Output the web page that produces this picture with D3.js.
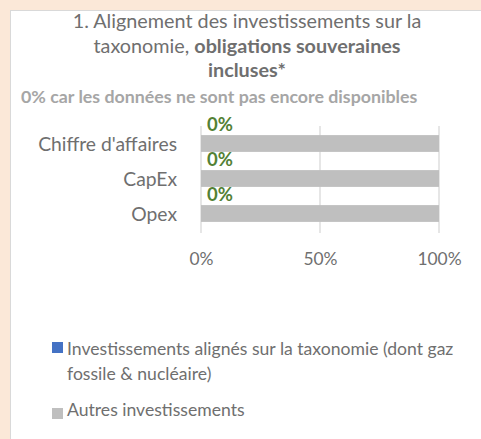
<!DOCTYPE html>
<html>
<head>
    <meta charset="utf-8">
    <script src="https://d3js.org/d3.v7.min.js"></script>
    <style>
        body { margin: 0; background: #fbe8d8; }
        svg { display: block; font-family: Lato, 'Open Sans', sans-serif; }
    </style>
</head>
<body>
<svg width="481" height="439"></svg>
<script>
    // chart data
    let categories = ["Chiffre d'affaires", "CapEx", "Opex"];
    let aligned = [0, 0, 0];
    let others = [100, 100, 100];
    let seriesNames = ["Investissements alignés sur la taxonomie (dont gaz fossile & nucléaire)", "Autres investissements"];
    let ticks = [0, 50, 100];

    let width = 481, height = 439;
    let textColor = "#6f6f6f";
    let svg = d3.select("svg");

    // white panel
    svg.append("rect")
        .attr("x", 10.5).attr("y", 10.5)
        .attr("width", width).attr("height", height)
        .attr("fill", "white")
        .attr("stroke", "#d9d9d9")

    // title
    let title = svg.append("text")
        .attr("text-anchor", "middle")
        .attr("fill", textColor)
        .attr("font-size", "19.8px")
    title.append("tspan").attr("x", 247).attr("y", 28)
        .text("1. Alignement des investissements sur la")
    let t2 = title.append("tspan").attr("x", 247).attr("y", 53)
    t2.append("tspan").text("taxonomie, ")
    t2.append("tspan").attr("font-weight", "bold").text("obligations souveraines")
    title.append("tspan").attr("x", 247).attr("y", 77)
        .attr("font-weight", "bold").text("incluses*")

    svg.append("text")
        .attr("x", 21).attr("y", 103)
        .attr("fill", "#a6a6a6")
        .attr("font-weight", "bold")
        .attr("font-size", "17.8px")
        .text("0% car les données ne sont pas encore disponibles")

    let rows = categories.map((c, i) => ({ cat: c, aligned: aligned[i], others: others[i] }));
    let stack = d3.stack().keys(["aligned", "others"])(rows);

    let x = d3.scaleLinear().domain([0, 100]).range([201, 439]);
    let y = d3.scaleBand().domain(categories).range([126, 231]).paddingInner(0.52).paddingOuter(0.26);

    // gridlines
    svg.append("g")
        .selectAll("line")
        .data(ticks)
        .join("line")
        .attr("x1", d => x(d)).attr("x2", d => x(d))
        .attr("y1", 126).attr("y2", 233)
        .attr("stroke", "#d9d9d9")
        .attr("stroke-width", 1.3)

    let colors = { aligned: "#4472c4", others: "#bfbfbf" };

    svg.append("g")
        .selectAll("g")
        .data(stack)
        .join("g")
        .attr("fill", d => colors[d.key])
        .selectAll("rect")
        .data(d => d)
        .join("rect")
        .attr("x", d => x(d[0]))
        .attr("y", d => y(d.data.cat))
        .attr("width", d => x(d[1]) - x(d[0]))
        .attr("height", y.bandwidth())

    // value labels for aligned share
    svg.append("g")
        .selectAll("text")
        .data(rows)
        .join("text")
        .attr("x", d => x(d.aligned) + 6)
        .attr("y", d => y(d.cat) - 4)
        .attr("fill", "#538135")
        .attr("font-weight", "bold")
        .attr("font-size", "18.5px")
        .text(d => d.aligned + "%")

    // category labels
    svg.append("g")
        .selectAll("text")
        .data(categories)
        .join("text")
        .attr("x", 177)
        .attr("y", 151)
        .attr("transform", d => "translate(0," + (y(d) - y(categories[0])) + ")")
        .attr("text-anchor", "end")
        .attr("fill", textColor)
        .attr("font-size", "19.3px")
        .text(d => d)

    // x axis
    let xAxis = svg.append("g")
        .attr("transform", "translate(0,250)")
        .call(d3.axisBottom(x).tickValues(ticks).tickFormat(d => d + "%").tickSize(0))
    xAxis.select(".domain").remove()
    xAxis.selectAll("text")
        .attr("fill", textColor)
        .attr("font-size", "17.4px")
        .attr("font-family", "Lato, 'Open Sans', sans-serif")

    // legend
    let legend = svg.append("g")
    legend.append("rect").attr("x", 52).attr("y", 342).attr("width", 11).attr("height", 11).attr("fill", colors.aligned)
    legend.append("rect").attr("x", 52).attr("y", 408).attr("width", 11).attr("height", 11).attr("fill", colors.others)
    let l1 = legend.append("text").attr("fill", textColor).attr("font-size", "17.6px")
    l1.append("tspan").attr("x", 67).attr("y", 355).text("Investissements alignés sur la taxonomie (dont gaz")
    l1.append("tspan").attr("x", 67).attr("y", 380).text("fossile & nucléaire)")
    legend.append("text").attr("x", 67).attr("y", 416)
        .attr("fill", textColor).attr("font-size", "17.6px")
        .text(seriesNames[1])
</script>
</body>
</html>
